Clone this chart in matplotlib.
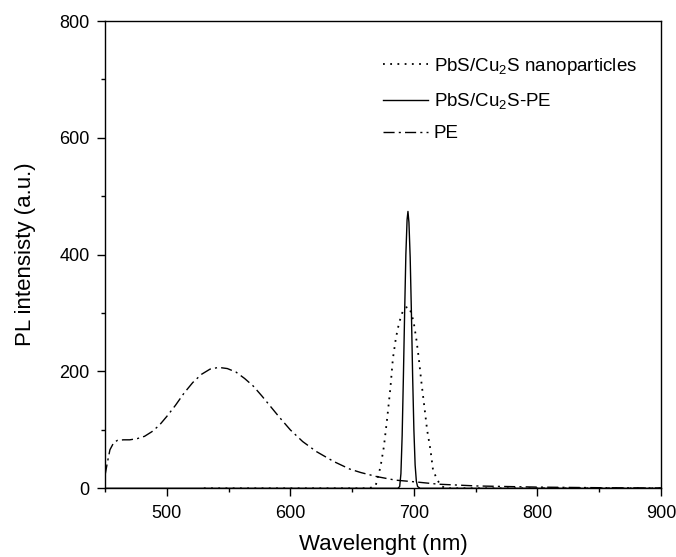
import matplotlib
matplotlib.use("Agg")
import matplotlib.pyplot as plt
from matplotlib.ticker import MultipleLocator

plt.rcParams.update({"font.family": "Liberation Sans", "mathtext.fontset": "custom",
    "mathtext.rm": "Liberation Sans", "mathtext.it": "Liberation Sans:italic",
    "xtick.direction": "out", "ytick.direction": "out"})

# PbS/Cu2S nanoparticles (dotted)
np_wl = [530, 660, 665, 669, 673, 675.7, 678.4, 681, 683, 685.5, 688, 690.5, 693, 695.5,
         698, 700, 702, 704, 706, 708, 710.7, 713.4, 715.5, 718.8, 722, 726, 900]
np_int = [0, 0, 1, 4, 37, 71, 120, 172, 222, 258, 283, 300, 309, 311,
          300, 282, 255, 222, 183, 148, 100, 66, 31, 15, 4, 0, 0]

# PbS/Cu2S-PE (solid)
pe_np_wl = [450, 680, 687, 688.5, 689.5, 690.5, 691.5, 692.5, 693.5, 694.5, 695.2, 696,
            697, 698, 699, 700, 701, 702, 703, 705, 900]
pe_np_int = [0, 0, 0, 3, 25, 90, 190, 300, 400, 460, 474, 455,
             395, 300, 190, 100, 40, 12, 3, 0, 0]

# PE (dash-dot)
pe_wl = [450, 452, 454, 457, 460, 465, 470, 476, 482, 488, 494, 500, 507, 514, 521, 528,
         535, 542, 549, 556, 563, 570, 577, 584, 591, 600, 610, 621, 635, 648, 657, 670,
         685, 701, 720, 751, 801, 851, 900]
pe_int = [22, 45, 66, 78, 82, 83, 83, 85, 89, 97, 108, 123, 142, 163, 181, 195,
          204, 207, 205, 199, 188, 175, 158, 140, 122, 100, 80, 63, 46, 33, 27, 20,
          14, 11, 7, 4, 2, 1, 0.5]

fig = plt.figure(figsize=(6.76, 5.57), dpi=100)
ax = fig.add_axes([105/676, 1-488.3/557, 556/676, 467.3/557])

ax.plot(np_wl, np_int, color="black", lw=1.3, ls=(0, (1, 3)), label="PbS/Cu$_2$S nanoparticles")
ax.plot(pe_np_wl, pe_np_int, color="black", lw=1.0, ls="-", label="PbS/Cu$_2$S-PE")
ax.plot(pe_wl, pe_int, color="black", lw=1.0, ls=(0, (8, 3, 1.5, 3)), label="PE")

ax.set_xlim(450, 900); ax.set_ylim(0, 800)
ax.xaxis.set_major_locator(MultipleLocator(100)); ax.xaxis.set_minor_locator(MultipleLocator(50))
ax.yaxis.set_major_locator(MultipleLocator(200)); ax.yaxis.set_minor_locator(MultipleLocator(100))
ax.set_xticks([500, 600, 700, 800, 900])
ax.tick_params(which="major", length=6, width=1.0, labelsize=13)
ax.tick_params(axis="x", which="major", pad=6)
ax.tick_params(axis="y", which="major", pad=5)
ax.tick_params(which="minor", length=3, width=1.0)
for s in ax.spines.values(): s.set_linewidth(1.0)

ax.set_xlabel("Wavelenght (nm)", fontsize=16, labelpad=9)
ax.set_ylabel("PL intensisty (a.u.)", fontsize=16, labelpad=17)

ax.legend(loc="upper left", bbox_to_anchor=(0.5, 0.925), frameon=False, fontsize=13.5,
          handlelength=2.4, handletextpad=0.3, labelspacing=0.75, borderpad=0, borderaxespad=0)

plt.savefig("out.png", dpi=100)
